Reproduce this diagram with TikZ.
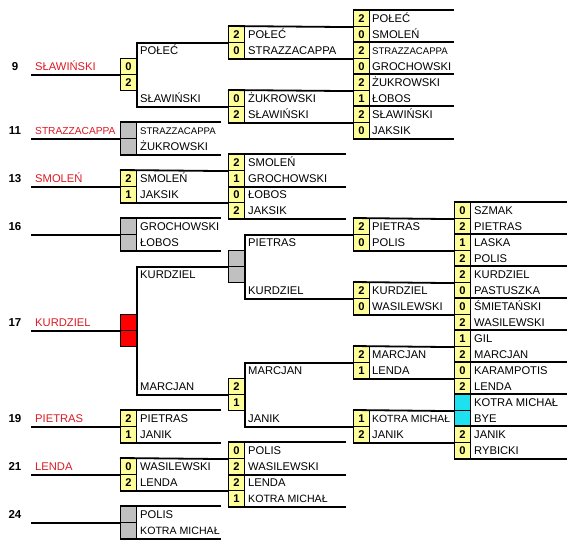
\documentclass[tikz,border=0pt]{standalone}
\usepackage{fontspec}
\setmainfont{Liberation Sans}
\definecolor{scoreyellow}{RGB}{255,255,153}
\definecolor{byegray}{RGB}{192,192,192}
\definecolor{hostred}{RGB}{255,0,0}
\definecolor{byecyan}{RGB}{30,225,240}
\definecolor{hosttext}{RGB}{220,25,35}
\begin{document}
\begin{tikzpicture}[x=1pt,y=-16pt,
font=\fontsize{11.2}{13}\selectfont,
cell/.style={%
draw,
line width=1.1pt,
fill=scoreyellow,
minimum width=16pt,
minimum height=16pt,
inner sep=0pt,
anchor=north west,
text height=8pt,
text depth=0pt,
font=\fontsize{11.2}{13}\selectfont\bfseries
},
player/.style={%
anchor=west,
inner sep=0pt,
text height=8pt,
text depth=0pt
},
smallname/.style={%
player,
font=\fontsize{9.6}{11}\selectfont
},
host/.style={%
player,
text=hosttext
},
seed/.style={%
inner sep=0pt,
text height=8pt,
text depth=0pt,
font=\fontsize{11.5}{13}\selectfont\bfseries
},
heavy/.style={line width=1.8pt},
]
\useasboundingbox(0,-0.625)rectangle(584,33.5);
%% seeds
\node[seed](s9)at(15,3.5){9};
\node[host](h9)at(35,3.5){SŁAWIŃSKI};
\node[seed](s11)at(15,7.5){11};
\node[host,font=\fontsize{10.2}{12}\selectfont](h11)at(35,7.5){STRAZZACAPPA};
\node[seed](s13)at(15,10.5){13};
\node[host](h13)at(35,10.5){SMOLEŃ};
\node[seed](s16)at(15,13.5){16};
\node[seed](s17)at(15,19.5){17};
\node[host](h17)at(35,19.5){KURDZIEL};
\node[seed](s19)at(15,25.5){19};
\node[host](h19)at(35,25.5){PIETRAS};
\node[seed](s21)at(15,28.5){21};
\node[host](h21)at(35,28.5){LENDA};
\node[seed](s24)at(15,31.5){24};
%% round 1
\node[cell](a3)at(120,3){0};
\node[cell](a4)at(120,4){2};
\node[cell,fill=byegray](a7)at(120,7){};
\node[cell,fill=byegray](a8)at(120,8){};
\node[cell](a10)at(120,10){2};
\node[cell](a11)at(120,11){1};
\node[cell,fill=byegray](a13)at(120,13){};
\node[cell,fill=byegray](a14)at(120,14){};
\node[cell,fill=hostred](a19)at(120,19){};
\node[cell,fill=hostred](a20)at(120,20){};
\node[cell](a25)at(120,25){2};
\node[cell](a26)at(120,26){1};
\node[cell](a28)at(120,28){0};
\node[cell](a29)at(120,29){2};
\node[cell,fill=byegray](a31)at(120,31){};
\node[cell,fill=byegray](a32)at(120,32){};
\node[player](na2)at(140,2.5){POŁEĆ};
\node[player](na5)at(140,5.5){SŁAWIŃSKI};
\node[smallname](na7)at(140,7.5){STRAZZACAPPA};
\node[player](na8)at(140,8.5){ŻUKROWSKI};
\node[player](na10)at(140,10.5){SMOLEŃ};
\node[player](na11)at(140,11.5){JAKSIK};
\node[player](na13)at(140,13.5){GROCHOWSKI};
\node[player](na14)at(140,14.5){ŁOBOS};
\node[player](na16)at(140,16.5){KURDZIEL};
\node[player](na23)at(140,23.5){MARCJAN};
\node[player](na25)at(140,25.5){PIETRAS};
\node[player](na26)at(140,26.5){JANIK};
\node[player](na28)at(140,28.5){WASILEWSKI};
\node[player](na29)at(140,29.5){LENDA};
\node[player](na31)at(140,31.5){POLIS};
\node[player,font=\fontsize{10.6}{13}\selectfont](na32)at(140,32.5){KOTRA MICHAŁ};
%% round 2
\node[cell](b1)at(228,1){2};
\node[cell](b2)at(228,2){0};
\node[cell](b5)at(228,5){0};
\node[cell](b6)at(228,6){2};
\node[cell](b9)at(228,9){2};
\node[cell](b10)at(228,10){1};
\node[cell](b11)at(228,11){0};
\node[cell](b12)at(228,12){2};
\node[cell,fill=byegray](b15)at(228,15){};
\node[cell,fill=byegray](b16)at(228,16){};
\node[cell](b23)at(228,23){2};
\node[cell](b24)at(228,24){1};
\node[cell](b27)at(228,27){0};
\node[cell](b28)at(228,28){2};
\node[cell](b29)at(228,29){2};
\node[cell](b30)at(228,30){1};
\node[player](nb1)at(248,1.5){POŁEĆ};
\node[player](nb2)at(248,2.5){STRAZZACAPPA};
\node[player](nb5)at(248,5.5){ŻUKROWSKI};
\node[player](nb6)at(248,6.5){SŁAWIŃSKI};
\node[player](nb9)at(248,9.5){SMOLEŃ};
\node[player](nb10)at(248,10.5){GROCHOWSKI};
\node[player](nb11)at(248,11.5){ŁOBOS};
\node[player](nb12)at(248,12.5){JAKSIK};
\node[player](nb14)at(248,14.5){PIETRAS};
\node[player](nb17)at(248,17.5){KURDZIEL};
\node[player](nb22)at(248,22.5){MARCJAN};
\node[player](nb25)at(248,25.5){JANIK};
\node[player](nb27)at(248,27.5){POLIS};
\node[player](nb28)at(248,28.5){WASILEWSKI};
\node[player](nb29)at(248,29.5){LENDA};
\node[player,font=\fontsize{10.6}{13}\selectfont](nb30)at(248,30.5){KOTRA MICHAŁ};
%% round 3
\node[cell](c0)at(353,0){2};
\node[cell](c1)at(353,1){0};
\node[cell](c2)at(353,2){2};
\node[cell](c3)at(353,3){0};
\node[cell](c4)at(353,4){2};
\node[cell](c5)at(353,5){1};
\node[cell](c6)at(353,6){2};
\node[cell](c7)at(353,7){0};
\node[cell](c13)at(353,13){2};
\node[cell](c14)at(353,14){0};
\node[cell](c17)at(353,17){2};
\node[cell](c18)at(353,18){0};
\node[cell](c21)at(353,21){2};
\node[cell](c22)at(353,22){1};
\node[cell](c25)at(353,25){1};
\node[cell](c26)at(353,26){2};
\node[player](nc0)at(372,0.5){POŁEĆ};
\node[player](nc1)at(372,1.5){SMOLEŃ};
\node[smallname](nc2)at(372,2.5){STRAZZACAPPA};
\node[player](nc3)at(372,3.5){GROCHOWSKI};
\node[player](nc4)at(372,4.5){ŻUKROWSKI};
\node[player](nc5)at(372,5.5){ŁOBOS};
\node[player](nc6)at(372,6.5){SŁAWIŃSKI};
\node[player](nc7)at(372,7.5){JAKSIK};
\node[player](nc13)at(372,13.5){PIETRAS};
\node[player](nc14)at(372,14.5){POLIS};
\node[player](nc17)at(372,17.5){KURDZIEL};
\node[player](nc18)at(372,18.5){WASILEWSKI};
\node[player](nc21)at(372,21.5){MARCJAN};
\node[player](nc22)at(372,22.5){LENDA};
\node[player,font=\fontsize{10.4}{13}\selectfont](nc25)at(372,25.5){KOTRA MICHAŁ};
\node[player](nc26)at(372,26.5){JANIK};
%% round 4
\node[cell](d12)at(454,12){0};
\node[cell](d13)at(454,13){2};
\node[cell](d14)at(454,14){1};
\node[cell](d15)at(454,15){2};
\node[cell](d16)at(454,16){2};
\node[cell](d17)at(454,17){0};
\node[cell](d18)at(454,18){0};
\node[cell](d19)at(454,19){2};
\node[cell](d20)at(454,20){1};
\node[cell](d21)at(454,21){2};
\node[cell](d22)at(454,22){0};
\node[cell](d23)at(454,23){2};
\node[cell,fill=byecyan](d24)at(454,24){};
\node[cell,fill=byecyan](d25)at(454,25){};
\node[cell](d26)at(454,26){2};
\node[cell](d27)at(454,27){0};
\node[player](nd12)at(474,12.5){SZMAK};
\node[player](nd13)at(474,13.5){PIETRAS};
\node[player](nd14)at(474,14.5){LASKA};
\node[player](nd15)at(474,15.5){POLIS};
\node[player](nd16)at(474,16.5){KURDZIEL};
\node[player](nd17)at(474,17.5){PASTUSZKA};
\node[player](nd18)at(474,18.5){ŚMIETAŃSKI};
\node[player](nd19)at(474,19.5){WASILEWSKI};
\node[player](nd20)at(474,20.5){GIL};
\node[player](nd21)at(474,21.5){MARCJAN};
\node[player](nd22)at(474,22.5){KARAMPOTIS};
\node[player](nd23)at(474,23.5){LENDA};
\node[player](nd24)at(474,24.5){KOTRA MICHAŁ};
\node[player](nd25)at(474,25.5){BYE};
\node[player](nd26)at(474,26.5){JANIK};
\node[player](nd27)at(474,27.5){RYBICKI};
%% seed lines
\draw[heavy](a3.south west)--++(-89,0);
\draw[heavy](a7.south west)--++(-89,0);
\draw[heavy](a10.south west)--++(-89,0);
\draw[heavy](a13.south west)--++(-89,0);
\draw[heavy](a19.south west)--++(-89,0);
\draw[heavy](a25.south west)--++(-89,0);
\draw[heavy](a28.south west)--++(-89,0);
\draw[heavy](a31.south west)--++(-89,0);
%% round 1 lines
\draw[heavy](b1.south west)-|(a3.north east)--(a4.south east)|-(b5.south west);
\draw[heavy](b15.south west)-|(a19.north east)--(a20.south east)|-(b23.south west);
\draw[heavy](a7.north west)--++(101,0);
\draw[heavy](a8.south west)--++(101,0);
\draw[heavy](a10.north west)--(b9.south west);
\draw[heavy](a11.south west)--(b11.south west);
\draw[heavy](a13.north west)--++(101,0);
\draw[heavy](a14.south west)--++(101,0);
\draw[heavy](a25.north west)--++(101,0);
\draw[heavy](a26.south west)--++(101,0);
\draw[heavy](a28.north west)--(b27.south west);
\draw[heavy](a29.south west)--(b29.south west);
\draw[heavy](a31.north west)--++(101,0);
\draw[heavy](a32.south west)--++(101,0);
%% round 2 lines
\draw[heavy](b1.north west)--(c0.south west);
\draw[heavy](b2.south west)--(c2.south west);
\draw[heavy](b5.north west)--(c4.south west);
\draw[heavy](b6.south west)--(c6.south west);
\draw[heavy](b9.north west)--++(118,0);
\draw[heavy](b10.south west)--++(118,0);
\draw[heavy](b12.south west)--++(118,0);
\draw[heavy](c13.south west)-|(b15.north east)--(b16.south east)|-(c17.south west);
\draw[heavy](c21.south west)-|(b23.north east)--(b24.south east)|-(c25.south west);
\draw[heavy](b27.north west)--++(118,0);
\draw[heavy](b28.south west)--++(118,0);
\draw[heavy](b30.south west)--++(118,0);
%% round 3 lines
\draw[heavy](c0.north west)--++(101,0);
\draw[heavy](c2.north west)--++(101,0);
\draw[heavy](c4.north west)--++(101,0);
\draw[heavy](c6.north west)--++(101,0);
\draw[heavy](c7.south west)--++(101,0);
\draw[heavy](c13.north west)--(d12.south west);
\draw[heavy](c14.south west)--(d14.south west);
\draw[heavy](c17.north west)--(d16.south west);
\draw[heavy](c18.south west)--(d18.south west);
\draw[heavy](c21.north west)--(d20.south west);
\draw[heavy](c22.south west)--(d22.south west);
\draw[heavy](c25.north west)--(d24.south west);
\draw[heavy](c26.south west)--(d26.south west);
%% round 4 lines
\draw[heavy](d12.north west)--++(113,0);
\draw[heavy](d14.north west)--++(113,0);
\draw[heavy](d16.north west)--++(113,0);
\draw[heavy](d18.north west)--++(113,0);
\draw[heavy](d20.north west)--++(113,0);
\draw[heavy](d22.north west)--++(113,0);
\draw[heavy](d24.north west)--++(113,0);
\draw[heavy](d26.north west)--++(113,0);
\draw[heavy](d27.south west)--++(113,0);
\end{tikzpicture}
\end{document}
